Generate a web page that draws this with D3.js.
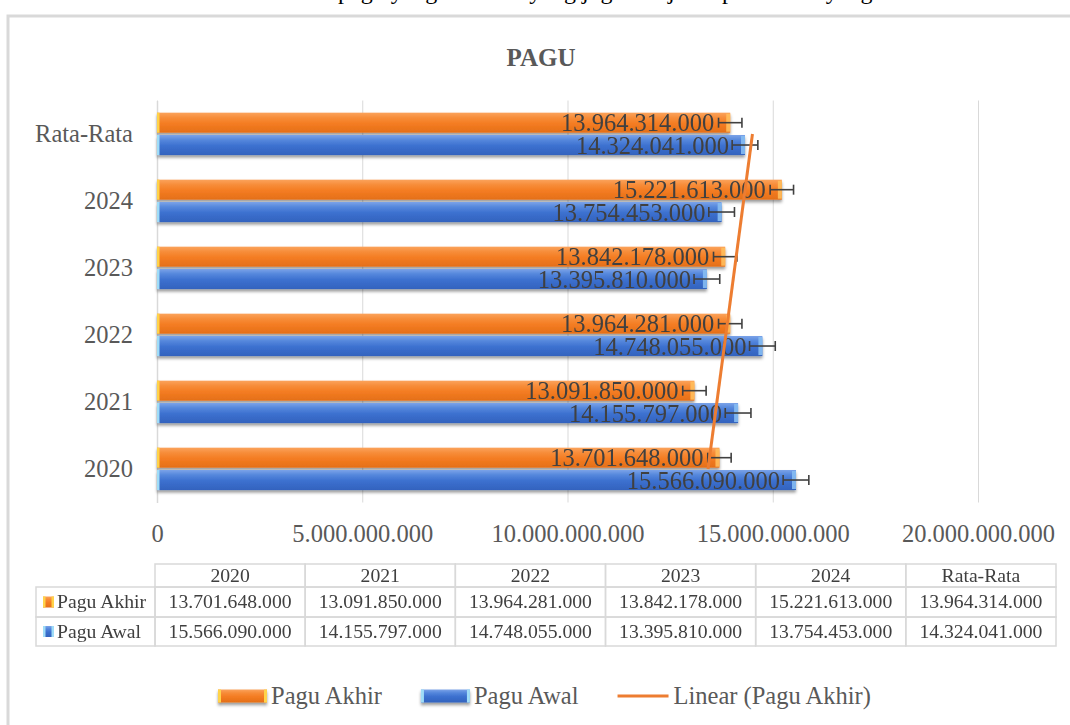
<!DOCTYPE html>
<html><head><meta charset="utf-8">
<script src="https://cdn.jsdelivr.net/npm/d3@7"></script>
<style>
body{margin:0;background:#fff}
svg{display:block}
text{font-family:"Liberation Serif","Times New Roman",serif}
</style>
</head><body><svg id="c" width="1070" height="725"></svg>
<script>
// ---- data ----
const categories = ["2020","2021","2022","2023","2024","Rata-Rata"];
const paguAkhir = [13701648000,13091850000,13964281000,13842178000,15221613000,13964314000];
const paguAwal  = [15566090000,14155797000,14748055000,13395810000,13754453000,14324041000];
const seriesNames = ["Pagu Akhir","Pagu Awal"];
const xTickValues = [0,5000000000,10000000000,15000000000,20000000000];
const errorAkhir = 285000000;
const errorAwal  = 313000000;
const chartTitle = "PAGU";
const trendName = "Linear (Pagu Akhir)";

// ---- setup ----
const svg = d3.select("#c");
const loc = d3.formatLocale({decimal:",", thousands:".", grouping:[3], currency:["",""]});
const fmt = loc.format(",");
const series = [
  {name:seriesNames[0], values:paguAkhir, err:errorAkhir, grad:"gOr", capL:"#ffd34a", capR:"#ffbe5c"},
  {name:seriesNames[1], values:paguAwal,  err:errorAwal,  grad:"gBl", capL:"#9fdcf7", capR:"#86bdf2"}
];

const defs = svg.append("defs");
function vgrad(id, stops){
  const g = defs.append("linearGradient").attr("id",id).attr("x1",0).attr("y1",0).attr("x2",0).attr("y2",1);
  stops.forEach(s=>g.append("stop").attr("offset",s[0]).attr("stop-color",s[1]));
}
vgrad("gOr",[["0%","#fba35c"],["25%","#f78d3a"],["55%","#f47c22"],["100%","#e46f18"]]);
vgrad("gBl",[["0%","#7ba3e8"],["25%","#5587dc"],["55%","#3c70cf"],["100%","#3363be"]]);
const sh = defs.append("filter").attr("id","shadow").attr("x","-5%").attr("y","-30%").attr("width","110%").attr("height","180%");
sh.append("feDropShadow").attr("dx",0).attr("dy",2.5).attr("stdDeviation",1.6).attr("flood-color","#000").attr("flood-opacity",0.4);

// top partial document text (cut off by the page edge)
svg.append("text").attr("x",338).attr("y",-1).attr("font-size",24).attr("fill","#000")
  .text("pagu yang diterima yang juga disajikan pada tabel yang");

// chart frame
svg.append("rect").attr("x",8).attr("y",16).attr("width",1100).attr("height",800)
  .attr("fill","none").attr("stroke","#d9d9d9").attr("stroke-width",3);

svg.append("text").attr("x",541).attr("y",66).attr("text-anchor","middle")
  .attr("font-size",25).attr("font-weight","bold").attr("fill","#595959").text(chartTitle);

// ---- scales ----
const x = d3.scaleLinear().domain([0,20000000000]).range([157,978]);
const plotTop = 100.5, plotBot = 502.5;
const y = d3.scaleBand().domain(categories.slice().reverse()).range([plotTop,plotBot])
  .paddingInner(1/3).paddingOuter(1/6);
const ys = d3.scaleBand().domain(seriesNames).range([0,y.bandwidth()]);

// gridlines
svg.append("g").attr("transform",`translate(0,${plotBot})`)
  .call(d3.axisBottom(x).tickValues(xTickValues).tickSize(-(plotBot-plotTop)).tickFormat(""))
  .call(g=>g.select(".domain").remove())
  .call(g=>g.selectAll("line").attr("stroke","#d9d9d9").attr("stroke-width",1));

// x tick labels
svg.append("g").attr("transform",`translate(0,${plotBot})`)
  .call(d3.axisBottom(x).tickValues(xTickValues).tickSize(0).tickPadding(22).tickFormat(fmt))
  .call(g=>g.select(".domain").remove())
  .call(g=>g.selectAll("text").attr("font-size",24.5).attr("fill","#595959")
        .attr("font-family",'"Liberation Serif","Times New Roman",serif'));

// y axis
svg.append("g").attr("transform",`translate(157,0)`)
  .call(d3.axisLeft(y).tickSize(0).tickPadding(24))
  .call(g=>g.select(".domain").attr("stroke","#d9d9d9").attr("stroke-width",1.5))
  .call(g=>g.selectAll("text").attr("font-size",24.5).attr("fill","#595959")
        .attr("font-family",'"Liberation Serif","Times New Roman",serif'));

// ---- bars ----
const bh = ys.bandwidth() - 2.3;
const barItems = [];
categories.forEach((c,i)=>{
  series.forEach(s=>{
    barItems.push({c, s, v:s.values[i], y0: y(c)+ys(s.name)+1});
  });
});
const barG = svg.append("g").attr("filter","url(#shadow)");
const bg = barG.selectAll("g.bar").data(barItems).join("g").attr("class","bar");
bg.append("rect").attr("x",x(0)).attr("y",d=>d.y0).attr("width",d=>x(d.v)-x(0)).attr("height",bh)
  .attr("fill",d=>`url(#${d.s.grad})`);
bg.append("rect").attr("x",x(0)).attr("y",d=>d.y0).attr("width",2.5).attr("height",bh)
  .attr("fill",d=>d.s.capL);
bg.append("rect").attr("x",d=>x(d.v)-4).attr("y",d=>d.y0+1).attr("width",4).attr("height",bh-2)
  .attr("fill",d=>d.s.capR).attr("opacity",0.9);

// labels
svg.append("g").selectAll("text").data(barItems).join("text")
  .attr("x",d=>x(d.v)-16).attr("y",d=>d.y0+bh/2+8.5).attr("text-anchor","end")
  .attr("font-size",24.5).attr("fill","#404040").text(d=>fmt(d.v));

// error bars
const eg = svg.append("g").attr("stroke","#404040").attr("stroke-width",1.6);
barItems.forEach(d=>{
  const cy = d.y0+bh/2, a = x(d.v-d.s.err), b = x(d.v+d.s.err);
  eg.append("line").attr("x1",a).attr("x2",b).attr("y1",cy).attr("y2",cy);
  eg.append("line").attr("x1",a).attr("x2",a).attr("y1",cy-5).attr("y2",cy+5);
  eg.append("line").attr("x1",b).attr("x2",b).attr("y1",cy-5).attr("y2",cy+5);
});

// linear trendline of Pagu Akhir (least squares over category index)
const n = paguAkhir.length;
const xs = d3.range(1,n+1);
const mx = d3.mean(xs), my = d3.mean(paguAkhir);
const slope = d3.sum(xs,(t,i)=>(t-mx)*(paguAkhir[i]-my)) / d3.sum(xs,t=>(t-mx)*(t-mx));
const icpt = my - slope*mx;
const trendPts = [0,n-1].map(i=>[x(icpt+slope*(i+1)), y(categories[i])+y.bandwidth()/2]);
svg.append("path").attr("d",d3.line()(trendPts)).attr("stroke","#ed7d31").attr("stroke-width",3)
  .attr("fill","none");

// ---- data table ----
const tx = d3.scaleBand().domain(categories).range([155,1056]);
const rowY = [564,587,617,646];
const tb = svg.append("g");
const bc = "#d9d9d9";
categories.forEach(c=>{
  tb.append("rect").attr("x",tx(c)).attr("y",rowY[0]).attr("width",tx.bandwidth()).attr("height",rowY[1]-rowY[0])
    .attr("fill","none").attr("stroke",bc).attr("stroke-width",1.5);
  tb.append("text").attr("x",tx(c)+tx.bandwidth()/2).attr("y",582).attr("text-anchor","middle")
    .attr("font-size",19.7).attr("fill","#404040").text(c);
});
series.forEach((s,r)=>{
  const top = rowY[r+1], h = rowY[r+2]-rowY[r+1], base = top+21;
  tb.append("rect").attr("x",36).attr("y",top).attr("width",155-36).attr("height",h)
    .attr("fill","none").attr("stroke",bc).attr("stroke-width",1.5);
  const ky = top + h/2 - 5.5;
  tb.append("rect").attr("x",43).attr("y",ky).attr("width",11).attr("height",11).attr("fill",`url(#${s.grad})`);
  tb.append("rect").attr("x",43).attr("y",ky).attr("width",2.5).attr("height",11).attr("fill",s.capL);
  tb.append("rect").attr("x",51.5).attr("y",ky).attr("width",2.5).attr("height",11).attr("fill",s.capL);
  tb.append("text").attr("x",57).attr("y",base).attr("font-size",19.7).attr("fill","#404040").text(s.name);
  categories.forEach((c,i)=>{
    tb.append("rect").attr("x",tx(c)).attr("y",top).attr("width",tx.bandwidth()).attr("height",h)
      .attr("fill","none").attr("stroke",bc).attr("stroke-width",1.5);
    tb.append("text").attr("x",tx(c)+tx.bandwidth()/2).attr("y",base).attr("text-anchor","middle")
      .attr("font-size",19.7).attr("fill","#404040").text(fmt(s.values[i]));
  });
});

// ---- legend ----
const lg = svg.append("g");
let lx = 218; const ly = 696;
series.forEach(s=>{
  const kg = lg.append("g").attr("filter","url(#shadow)");
  kg.append("rect").attr("x",lx).attr("y",ly-6.5).attr("width",49).attr("height",13).attr("fill",`url(#${s.grad})`);
  kg.append("rect").attr("x",lx).attr("y",ly-6.5).attr("width",3).attr("height",13).attr("fill",s.capL);
  kg.append("rect").attr("x",lx+46).attr("y",ly-6.5).attr("width",3).attr("height",13).attr("fill",s.capL);
  const t = lg.append("text").attr("x",lx+53).attr("y",ly+7.5).attr("font-size",24.5).attr("fill","#595959").text(s.name);
  lx = lx + 53 + t.node().getComputedTextLength() + 39;
});
lg.append("line").attr("x1",lx).attr("x2",lx+51).attr("y1",ly).attr("y2",ly).attr("stroke","#ed7d31").attr("stroke-width",3);
lg.append("text").attr("x",lx+56).attr("y",ly+7.5).attr("font-size",24.5).attr("fill","#595959").text(trendName);
</script>
</body></html>
